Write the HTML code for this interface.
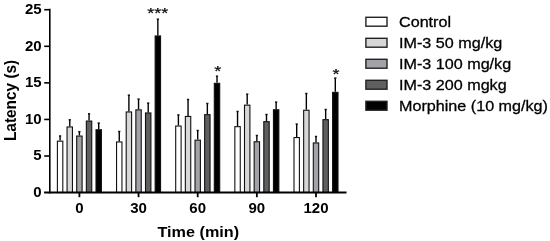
<!DOCTYPE html>
<html><head><meta charset="utf-8"><style>
html,body{margin:0;padding:0;background:#fff;}
body{width:550px;height:241px;overflow:hidden;}
svg{display:block;will-change:transform;}
text{font-family:"Liberation Sans",sans-serif;fill:#000;}
.tl{font-size:15px;font-weight:700;}
.al{font-size:15px;font-weight:700;}
.lg{font-size:15px;font-weight:400;stroke:#000;stroke-width:0.3px;}
.st{font-size:18px;font-weight:400;stroke:#000;stroke-width:0.25px;}
</style></head><body>
<svg width="550" height="241" viewBox="0 0 550 241">
<line x1="60.10" y1="140.60" x2="60.10" y2="136.00" stroke="#000" stroke-width="1.4"/>
<line x1="59.00" y1="136.00" x2="61.20" y2="136.00" stroke="#111" stroke-width="1.5"/>
<rect x="57.40" y="141.15" width="5.40" height="51.35" fill="#ffffff" stroke="#111" stroke-width="1.1"/>
<line x1="69.75" y1="126.40" x2="69.75" y2="119.80" stroke="#000" stroke-width="1.4"/>
<line x1="68.65" y1="119.80" x2="70.85" y2="119.80" stroke="#111" stroke-width="1.5"/>
<rect x="67.05" y="126.95" width="5.40" height="65.55" fill="#d7d7d7" stroke="#111" stroke-width="1.1"/>
<line x1="79.40" y1="135.50" x2="79.40" y2="131.70" stroke="#000" stroke-width="1.4"/>
<line x1="78.30" y1="131.70" x2="80.50" y2="131.70" stroke="#111" stroke-width="1.5"/>
<rect x="76.70" y="136.05" width="5.40" height="56.45" fill="#a3a2a7" stroke="#111" stroke-width="1.1"/>
<line x1="89.05" y1="120.50" x2="89.05" y2="113.80" stroke="#000" stroke-width="1.4"/>
<line x1="87.95" y1="113.80" x2="90.15" y2="113.80" stroke="#111" stroke-width="1.5"/>
<rect x="86.35" y="121.05" width="5.40" height="71.45" fill="#5f5f5f" stroke="#111" stroke-width="1.1"/>
<line x1="98.70" y1="129.20" x2="98.70" y2="123.10" stroke="#000" stroke-width="1.4"/>
<line x1="97.60" y1="123.10" x2="99.80" y2="123.10" stroke="#111" stroke-width="1.5"/>
<rect x="96.00" y="129.75" width="5.40" height="62.75" fill="#000000" stroke="#111" stroke-width="1.1"/>
<line x1="119.25" y1="141.40" x2="119.25" y2="131.50" stroke="#000" stroke-width="1.4"/>
<line x1="118.15" y1="131.50" x2="120.35" y2="131.50" stroke="#111" stroke-width="1.5"/>
<rect x="116.55" y="141.95" width="5.40" height="50.55" fill="#ffffff" stroke="#111" stroke-width="1.1"/>
<line x1="128.90" y1="111.40" x2="128.90" y2="95.20" stroke="#000" stroke-width="1.4"/>
<line x1="127.80" y1="95.20" x2="130.00" y2="95.20" stroke="#111" stroke-width="1.5"/>
<rect x="126.20" y="111.95" width="5.40" height="80.55" fill="#d7d7d7" stroke="#111" stroke-width="1.1"/>
<line x1="138.55" y1="109.30" x2="138.55" y2="99.10" stroke="#000" stroke-width="1.4"/>
<line x1="137.45" y1="99.10" x2="139.65" y2="99.10" stroke="#111" stroke-width="1.5"/>
<rect x="135.85" y="109.85" width="5.40" height="82.65" fill="#a3a2a7" stroke="#111" stroke-width="1.1"/>
<line x1="148.20" y1="112.40" x2="148.20" y2="103.10" stroke="#000" stroke-width="1.4"/>
<line x1="147.10" y1="103.10" x2="149.30" y2="103.10" stroke="#111" stroke-width="1.5"/>
<rect x="145.50" y="112.95" width="5.40" height="79.55" fill="#5f5f5f" stroke="#111" stroke-width="1.1"/>
<line x1="157.85" y1="35.40" x2="157.85" y2="19.20" stroke="#000" stroke-width="1.4"/>
<line x1="156.75" y1="19.20" x2="158.95" y2="19.20" stroke="#111" stroke-width="1.5"/>
<rect x="155.15" y="35.95" width="5.40" height="156.55" fill="#000000" stroke="#111" stroke-width="1.1"/>
<line x1="178.40" y1="125.50" x2="178.40" y2="114.90" stroke="#000" stroke-width="1.4"/>
<line x1="177.30" y1="114.90" x2="179.50" y2="114.90" stroke="#111" stroke-width="1.5"/>
<rect x="175.70" y="126.05" width="5.40" height="66.45" fill="#ffffff" stroke="#111" stroke-width="1.1"/>
<line x1="188.05" y1="115.90" x2="188.05" y2="99.50" stroke="#000" stroke-width="1.4"/>
<line x1="186.95" y1="99.50" x2="189.15" y2="99.50" stroke="#111" stroke-width="1.5"/>
<rect x="185.35" y="116.45" width="5.40" height="76.05" fill="#d7d7d7" stroke="#111" stroke-width="1.1"/>
<line x1="197.70" y1="139.60" x2="197.70" y2="130.50" stroke="#000" stroke-width="1.4"/>
<line x1="196.60" y1="130.50" x2="198.80" y2="130.50" stroke="#111" stroke-width="1.5"/>
<rect x="195.00" y="140.15" width="5.40" height="52.35" fill="#a3a2a7" stroke="#111" stroke-width="1.1"/>
<line x1="207.35" y1="114.10" x2="207.35" y2="103.50" stroke="#000" stroke-width="1.4"/>
<line x1="206.25" y1="103.50" x2="208.45" y2="103.50" stroke="#111" stroke-width="1.5"/>
<rect x="204.65" y="114.65" width="5.40" height="77.85" fill="#5f5f5f" stroke="#111" stroke-width="1.1"/>
<line x1="217.00" y1="82.80" x2="217.00" y2="76.20" stroke="#000" stroke-width="1.4"/>
<line x1="215.90" y1="76.20" x2="218.10" y2="76.20" stroke="#111" stroke-width="1.5"/>
<rect x="214.30" y="83.35" width="5.40" height="109.15" fill="#000000" stroke="#111" stroke-width="1.1"/>
<line x1="237.55" y1="126.10" x2="237.55" y2="111.50" stroke="#000" stroke-width="1.4"/>
<line x1="236.45" y1="111.50" x2="238.65" y2="111.50" stroke="#111" stroke-width="1.5"/>
<rect x="234.85" y="126.65" width="5.40" height="65.85" fill="#ffffff" stroke="#111" stroke-width="1.1"/>
<line x1="247.20" y1="104.60" x2="247.20" y2="94.20" stroke="#000" stroke-width="1.4"/>
<line x1="246.10" y1="94.20" x2="248.30" y2="94.20" stroke="#111" stroke-width="1.5"/>
<rect x="244.50" y="105.15" width="5.40" height="87.35" fill="#d7d7d7" stroke="#111" stroke-width="1.1"/>
<line x1="256.85" y1="141.20" x2="256.85" y2="135.50" stroke="#000" stroke-width="1.4"/>
<line x1="255.75" y1="135.50" x2="257.95" y2="135.50" stroke="#111" stroke-width="1.5"/>
<rect x="254.15" y="141.75" width="5.40" height="50.75" fill="#a3a2a7" stroke="#111" stroke-width="1.1"/>
<line x1="266.50" y1="121.10" x2="266.50" y2="114.50" stroke="#000" stroke-width="1.4"/>
<line x1="265.40" y1="114.50" x2="267.60" y2="114.50" stroke="#111" stroke-width="1.5"/>
<rect x="263.80" y="121.65" width="5.40" height="70.85" fill="#5f5f5f" stroke="#111" stroke-width="1.1"/>
<line x1="276.15" y1="109.20" x2="276.15" y2="102.10" stroke="#000" stroke-width="1.4"/>
<line x1="275.05" y1="102.10" x2="277.25" y2="102.10" stroke="#111" stroke-width="1.5"/>
<rect x="273.45" y="109.75" width="5.40" height="82.75" fill="#000000" stroke="#111" stroke-width="1.1"/>
<line x1="296.70" y1="137.00" x2="296.70" y2="124.10" stroke="#000" stroke-width="1.4"/>
<line x1="295.60" y1="124.10" x2="297.80" y2="124.10" stroke="#111" stroke-width="1.5"/>
<rect x="294.00" y="137.55" width="5.40" height="54.95" fill="#ffffff" stroke="#111" stroke-width="1.1"/>
<line x1="306.35" y1="109.70" x2="306.35" y2="93.50" stroke="#000" stroke-width="1.4"/>
<line x1="305.25" y1="93.50" x2="307.45" y2="93.50" stroke="#111" stroke-width="1.5"/>
<rect x="303.65" y="110.25" width="5.40" height="82.25" fill="#d7d7d7" stroke="#111" stroke-width="1.1"/>
<line x1="316.00" y1="142.40" x2="316.00" y2="136.50" stroke="#000" stroke-width="1.4"/>
<line x1="314.90" y1="136.50" x2="317.10" y2="136.50" stroke="#111" stroke-width="1.5"/>
<rect x="313.30" y="142.95" width="5.40" height="49.55" fill="#a3a2a7" stroke="#111" stroke-width="1.1"/>
<line x1="325.65" y1="119.10" x2="325.65" y2="109.50" stroke="#000" stroke-width="1.4"/>
<line x1="324.55" y1="109.50" x2="326.75" y2="109.50" stroke="#111" stroke-width="1.5"/>
<rect x="322.95" y="119.65" width="5.40" height="72.85" fill="#5f5f5f" stroke="#111" stroke-width="1.1"/>
<line x1="335.30" y1="91.80" x2="335.30" y2="78.10" stroke="#000" stroke-width="1.4"/>
<line x1="334.20" y1="78.10" x2="336.40" y2="78.10" stroke="#111" stroke-width="1.5"/>
<rect x="332.60" y="92.35" width="5.40" height="100.15" fill="#000000" stroke="#111" stroke-width="1.1"/>
<line x1="49.8" y1="8.8" x2="49.8" y2="193.4" stroke="#000" stroke-width="1.6"/>
<line x1="44.1" y1="192.5" x2="346.5" y2="192.5" stroke="#000" stroke-width="1.8"/>
<line x1="44.2" y1="156.02" x2="49.8" y2="156.02" stroke="#000" stroke-width="1.6"/>
<line x1="44.2" y1="119.45" x2="49.8" y2="119.45" stroke="#000" stroke-width="1.6"/>
<line x1="44.2" y1="82.87" x2="49.8" y2="82.87" stroke="#000" stroke-width="1.6"/>
<line x1="44.2" y1="46.30" x2="49.8" y2="46.30" stroke="#000" stroke-width="1.6"/>
<line x1="44.2" y1="9.72" x2="49.8" y2="9.72" stroke="#000" stroke-width="1.6"/>
<text x="41.6" y="196.90" text-anchor="end" class="tl">0</text>
<text x="41.6" y="160.42" text-anchor="end" class="tl">5</text>
<text x="41.6" y="123.85" text-anchor="end" class="tl">10</text>
<text x="41.6" y="87.27" text-anchor="end" class="tl">15</text>
<text x="41.6" y="50.70" text-anchor="end" class="tl">20</text>
<text x="41.6" y="14.12" text-anchor="end" class="tl">25</text>
<line x1="79.40" y1="192.5" x2="79.40" y2="197.2" stroke="#000" stroke-width="1.8"/>
<text x="79.40" y="212.8" text-anchor="middle" class="tl">0</text>
<line x1="138.55" y1="192.5" x2="138.55" y2="197.2" stroke="#000" stroke-width="1.8"/>
<text x="138.55" y="212.8" text-anchor="middle" class="tl">30</text>
<line x1="197.70" y1="192.5" x2="197.70" y2="197.2" stroke="#000" stroke-width="1.8"/>
<text x="197.70" y="212.8" text-anchor="middle" class="tl">60</text>
<line x1="256.85" y1="192.5" x2="256.85" y2="197.2" stroke="#000" stroke-width="1.8"/>
<text x="256.85" y="212.8" text-anchor="middle" class="tl">90</text>
<line x1="316.00" y1="192.5" x2="316.00" y2="197.2" stroke="#000" stroke-width="1.8"/>
<text x="316.00" y="212.8" text-anchor="middle" class="tl">120</text>
<text transform="translate(198.3,236.6) scale(1.08,1)" text-anchor="middle" class="al">Time (min)</text>
<text transform="translate(15.5,100.4) rotate(-90) scale(0.945,1)" x="0" y="0" text-anchor="middle" class="al" style="font-size:16.3px">Latency (s)</text>
<text transform="translate(157.8,17.7) scale(1,0.85)" text-anchor="middle" class="st">***</text>
<text transform="translate(217.8,76.3) scale(1,0.85)" text-anchor="middle" class="st">*</text>
<text transform="translate(336,79.0) scale(1,0.85)" text-anchor="middle" class="st">*</text>
<rect x="365.90" y="17.30" width="21.10" height="8.90" fill="#ffffff" stroke="#222" stroke-width="1.4"/>
<text transform="translate(399,27.20) scale(1.077,1)" class="lg">Control</text>
<rect x="365.90" y="38.30" width="21.10" height="8.90" fill="#d7d7d7" stroke="#222" stroke-width="1.4"/>
<text transform="translate(399,48.20) scale(1.077,1)" class="lg">IM-3 50 mg/kg</text>
<rect x="365.90" y="59.30" width="21.10" height="8.90" fill="#a3a2a7" stroke="#222" stroke-width="1.4"/>
<text transform="translate(399,69.20) scale(1.077,1)" class="lg">IM-3 100 mg/kg</text>
<rect x="365.90" y="80.30" width="21.10" height="8.90" fill="#5f5f5f" stroke="#222" stroke-width="1.4"/>
<text transform="translate(399,90.20) scale(1.077,1)" class="lg">IM-3 200 mgkg</text>
<rect x="365.90" y="101.30" width="21.10" height="8.90" fill="#000000" stroke="#222" stroke-width="1.4"/>
<text transform="translate(399,111.20) scale(1.077,1)" class="lg">Morphine (10 mg/kg)</text>
</svg>
</body></html>
